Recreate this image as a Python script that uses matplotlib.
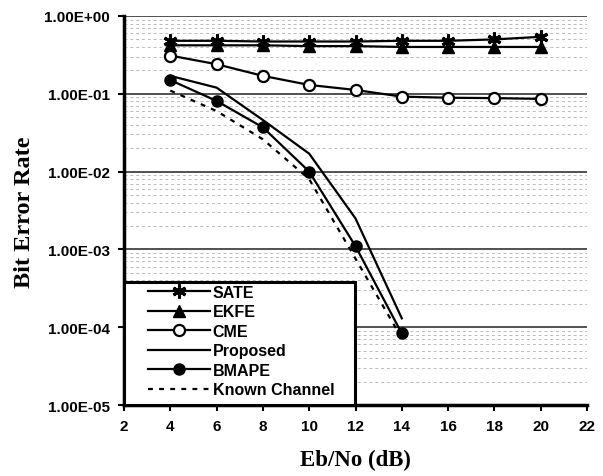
import matplotlib
matplotlib.use("Agg")
import matplotlib.pyplot as plt
from matplotlib.ticker import FixedLocator, LogLocator, NullFormatter
from matplotlib.patches import Rectangle

snr = [4, 6, 8, 10, 12, 14, 16, 18, 20]
sate = [0.48, 0.48, 0.47, 0.47, 0.47, 0.48, 0.48, 0.50, 0.54]
ekfe = [0.42, 0.42, 0.42, 0.41, 0.41, 0.40, 0.40, 0.40, 0.40]
cme = [0.31, 0.24, 0.17, 0.13, 0.112, 0.092, 0.089, 0.088, 0.086]

snr_low = [4, 6, 8, 10, 12, 14]
proposed = [0.17, 0.12, 0.046, 0.017, 0.0025, 0.00013]
bmape = [0.15, 0.081, 0.037, 0.010, 0.0011, 0.000083]
known = [0.11, 0.06, 0.026, 0.008, 0.00076, 0.000072]

xticks = [2, 4, 6, 8, 10, 12, 14, 16, 18, 20, 22]
yticks = [1e-5, 1e-4, 1e-3, 1e-2, 1e-1, 1e0]
ytick_labels = ["1.00E-05", "1.00E-04", "1.00E-03", "1.00E-02", "1.00E-01", "1.00E+00"]

W, H = 603, 477
fig = plt.figure(figsize=(W/100, H/100), dpi=100)
ax = fig.add_axes([124/W, 1-406/H, (587-124)/W, (406-17)/H])

lw = 1.6
ax.plot(snr, sate, color="black", lw=lw, marker=(6, 2, 0), ms=10, mew=2.2, label="SATE", zorder=5)
ax.plot(snr, ekfe, color="black", lw=lw, marker="^", ms=8, label="EKFE", zorder=5)
ax.plot(snr, cme, color="black", lw=lw, marker="o", ms=8, mfc="white", mew=1.6, label="CME", zorder=5)
ax.plot(snr_low, proposed, color="black", lw=lw, label="Proposed", zorder=5)
ax.plot(snr_low, bmape, color="black", lw=lw, marker="o", ms=8, label="BMAPE", zorder=5)
ax.plot(snr_low, known, color="black", lw=lw, ls=(0, (2.2, 2.8)), label="Known Channel", zorder=5)

ax.set_yscale("log")
ax.set_xlim(2, 22)
ax.set_ylim(1e-5, 1e0)
ax.yaxis.set_major_locator(FixedLocator(yticks))
ax.set_yticklabels(ytick_labels)
ax.yaxis.set_minor_locator(LogLocator(base=10, subs=range(2, 10)))
ax.yaxis.set_minor_formatter(NullFormatter())
ax.set_xticks(xticks)

ax.grid(True, which="major", axis="y", color="#222222", lw=1.1)
ax.grid(True, which="minor", axis="y", color="#bbbbbb", lw=0.7, ls=(0, (3, 3)))

for s in ["top", "right"]:
    ax.spines[s].set_visible(False)
ax.spines["left"].set_linewidth(2.5)
ax.spines["bottom"].set_linewidth(2.5)

for lab in ax.get_xticklabels() + ax.get_yticklabels():
    lab.set_fontfamily("Liberation Sans")
    lab.set_fontweight("bold")
    lab.set_fontsize(11)
ax.tick_params(axis="both", which="major", direction="out", length=4, width=1.5, pad=6)
ax.tick_params(axis="y", which="minor", length=0)

fig.text(355/W, 1-460/H, "Eb/No (dB)", family="Liberation Serif", weight="bold",
         fontsize=16.5, ha="center", va="center")
fig.text(25/W, 1-212/H, "Bit Error Rate", family="Liberation Serif", weight="bold",
         fontsize=17.5, ha="center", va="center", rotation=90)

# legend box
box = Rectangle((0, 0), (355-124)/463, (406-283)/389, transform=ax.transAxes,
                facecolor="white", edgecolor="black", lw=2.2, zorder=9, clip_on=False)
ax.add_patch(box)
leg = ax.legend(loc="upper left", bbox_to_anchor=((148-124)/463, (406-286)/389), borderaxespad=0,
                prop=dict(family="Liberation Sans", weight="bold", size=11.5),
                handlelength=3.9, handletextpad=0.15, labelspacing=0.28,
                frameon=False, borderpad=0)
leg.set_zorder(10)

fig.savefig("out.png", dpi=100)
